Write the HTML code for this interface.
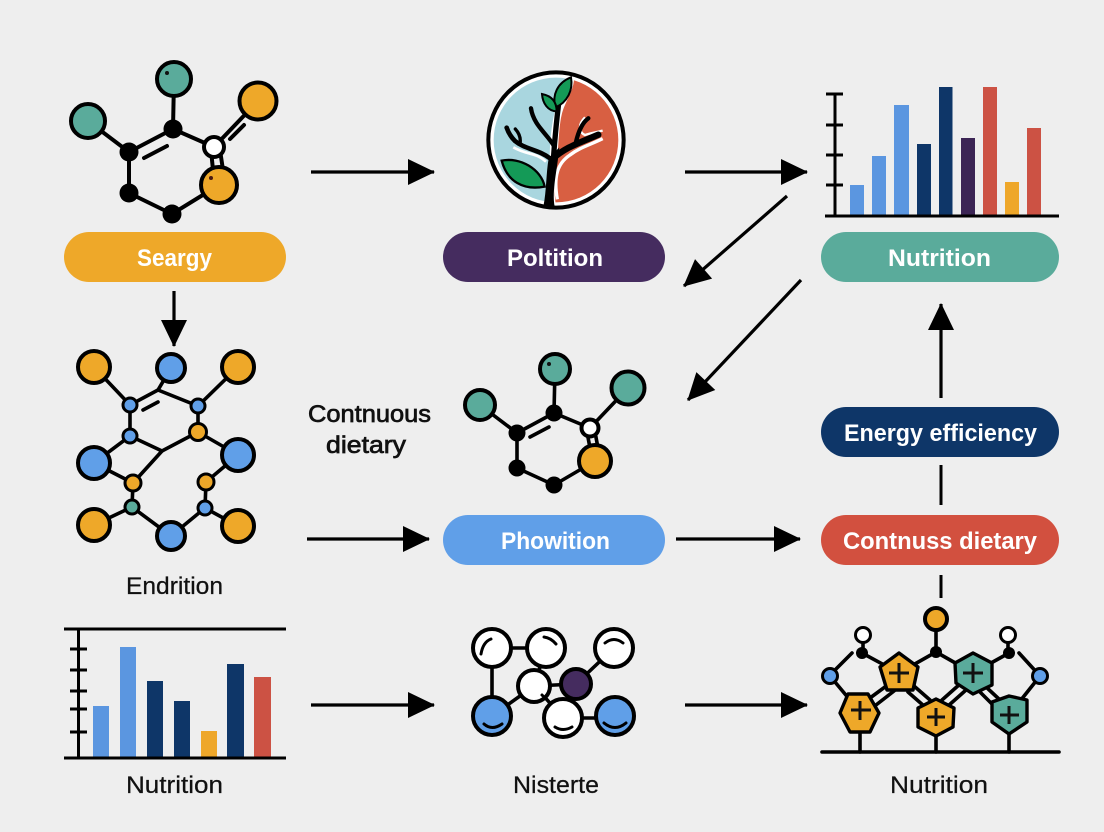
<!DOCTYPE html>
<html><head><meta charset="utf-8"><style>
html,body{margin:0;padding:0;background:#eeeeee}
svg{display:block}
.l{stroke:#000;stroke-width:3.6;fill:none;stroke-linecap:round}
.a{stroke:#000;stroke-width:3.2;fill:none;marker-end:url(#ah)}
.n{stroke:#000;stroke-width:4}
.n2{stroke:#000;stroke-width:3}
.p{font-family:"Liberation Sans",sans-serif;font-weight:700;font-size:24px;fill:#fff;text-anchor:start}
.t{font-family:"Liberation Sans",sans-serif;font-size:24px;fill:#111;text-anchor:start;stroke:#111;stroke-width:.25}
</style></head><body>
<svg width="1104" height="832" viewBox="0 0 1104 832" xmlns="http://www.w3.org/2000/svg">
<defs>
<marker id="ah" markerUnits="userSpaceOnUse" markerWidth="30" markerHeight="28" refX="27" refY="13" orient="auto"><path d="M1,0 L28,13 L1,26 Z" fill="#000"/></marker>
<clipPath id="cc"><circle cx="258" cy="240" r="187"/></clipPath>
</defs>
<rect width="1104" height="832" fill="#eeeeee"/>

<!-- molecule 1 -->
<g class="l" style="stroke-width:4">
<path d="M88,121 L129,152 L129,193 L172,214 L219,185"/>
<path d="M129,152 L173,129 L214,147"/><path d="M174,79 L173,129"/>
<path d="M214,147 L258,101"/><path d="M144,158 L167,146"/><path d="M230,139 L244,125"/>
<path d="M211,150 L213,170"/><path d="M220,150 L223,170"/>
</g>
<circle cx="174" cy="79" r="17" fill="#5aab9b" class="n"/><circle cx="167" cy="73" r="2" fill="#111"/>
<circle cx="88" cy="121" r="17" fill="#5aab9b" class="n"/>
<circle cx="258" cy="101" r="18.5" fill="#eea829" class="n"/>
<circle cx="173" cy="129" r="9.500" fill="#000"/><circle cx="129" cy="152" r="9.500" fill="#000"/>
<circle cx="129" cy="193" r="9.500" fill="#000"/><circle cx="172" cy="214" r="9.500" fill="#000"/>
<circle cx="214" cy="147" r="10" fill="#fff" class="n"/>
<circle cx="219" cy="185" r="18" fill="#eea829" class="n"/><circle cx="211" cy="178" r="2" fill="#4a1a10"/>
<rect x="64" y="232" width="222" height="50" rx="25" fill="#eea829"/>
<text x="137" y="266" class="p" textLength="75" lengthAdjust="spacingAndGlyphs">Seargy</text>

<!-- tree -->
<g transform="translate(470,60) scale(.3333)">
<circle cx="258" cy="240" r="203" fill="#fff" stroke="#000" stroke-width="12"/>
<g clip-path="url(#cc)">
<path d="M40,40 L298,40 C262,110 245,170 240,260 C238,330 232,390 220,440 L40,440Z" fill="#a9d6df"/>
<path d="M312,40 L480,40 L480,440 L258,440 C250,380 250,330 262,290 C268,220 268,170 285,135 C300,100 315,80 312,40Z" fill="#d85f42"/>
</g>
<path d="M262,418 C250,350 262,310 300,285 C330,262 360,255 398,236" fill="none" stroke="#fff" stroke-width="10"/>
<path d="M130,262 C170,285 200,278 228,305" fill="none" stroke="#fff" stroke-width="8"/>
<path d="M345,172 C322,195 328,218 345,225 C360,220 380,216 398,212" fill="none" stroke="#fff" stroke-width="7"/>
<path d="M220,440 C230,390 228,340 236,295 L268,262 C262,330 245,390 254,440Z" fill="#000"/>
<g fill="none" stroke="#000" stroke-linecap="round">
<path d="M250,300 C254,240 260,180 266,130" stroke-width="16"/>
<path d="M246,298 C285,262 325,250 385,224" stroke-width="19"/>
<path d="M318,246 C325,215 335,190 355,175" stroke-width="13"/>
<path d="M240,295 C205,268 165,268 135,243 C122,230 115,218 110,203" stroke-width="14"/>
<path d="M150,252 C153,235 148,220 136,207" stroke-width="10"/>
<path d="M252,258 C232,222 190,195 183,145" stroke-width="13"/>
</g>
<path d="M95,302 C150,290 214,328 224,380 C160,392 112,365 95,302Z" fill="#149a57" stroke="#000" stroke-width="7"/>
<path d="M303,52 C310,90 292,128 256,142 C246,105 262,68 303,52Z" fill="#149a57" stroke="#000" stroke-width="6"/>
<path d="M216,102 C246,108 260,125 260,154 C234,154 218,130 216,102Z" fill="#149a57" stroke="#000" stroke-width="6"/>
</g>
<rect x="443" y="232" width="222" height="50" rx="25" fill="#452c5f"/>
<text x="507" y="266" class="p" textLength="96" lengthAdjust="spacingAndGlyphs">Poltition</text>

<!-- chart 1 -->
<g fill="#5b96e0"><rect x="850" y="185" width="14" height="31"/><rect x="872" y="156" width="14" height="60"/><rect x="894" y="105" width="15" height="111"/></g>
<g fill="#0e3668"><rect x="917" y="144" width="14" height="72"/><rect x="939" y="87" width="13.500" height="129"/></g>
<rect x="961" y="138" width="14" height="78" fill="#3c2555"/>
<rect x="983" y="87" width="14" height="129" fill="#cc5244"/>
<rect x="1005" y="182" width="14" height="34" fill="#eea72a"/>
<rect x="1027" y="128" width="14" height="88" fill="#cc5244"/>
<g stroke="#000" stroke-width="3" fill="none">
<path d="M835,94 V216"/><path d="M826,94 H843"/><path d="M826,125 H843"/><path d="M826,155 H843"/><path d="M826,185 H843"/><path d="M825,216 H1059"/>
</g>
<rect x="821" y="232" width="238" height="50" rx="25" fill="#5aab9b"/>
<text x="888" y="266" class="p" textLength="103" lengthAdjust="spacingAndGlyphs">Nutrition</text>

<!-- arrows -->
<path class="a" d="M311,172 H434"/>
<path class="a" d="M685,172 H807"/>
<path class="a" d="M787,196 L684,286"/>
<path class="a" d="M801,280 L688,400"/>
<path class="a" d="M174,291 V346"/>
<path class="a" d="M307,539 H429"/>
<path class="a" d="M676,539 H800"/>
<path class="a" d="M941,398 V304"/>
<path d="M941,465 V505" stroke="#000" stroke-width="3"/>
<path d="M941,575 V598" stroke="#000" stroke-width="3"/>
<path class="a" d="M311,705 H434"/>
<path class="a" d="M685,705 H807"/>

<!-- network -->
<g class="l">
<path d="M94,367 L130,405 L158,390 L171,368"/><path d="M158,390 L198,406 L238,367"/>
<path d="M130,405 L130,436 L162,451 L198,432 L198,406"/><path d="M198,432 L238,455"/>
<path d="M94,463 L130,436"/><path d="M94,463 L133,483 L162,451"/>
<path d="M133,483 L132,507 L94,525"/><path d="M132,507 L171,536 L205,508 L238,526"/>
<path d="M205,508 L206,482 L238,455"/><path d="M143,410 L158,402"/>
</g>
<g class="n">
<circle cx="94" cy="367" r="16" fill="#eea829"/><circle cx="171" cy="368" r="14" fill="#609fe8"/><circle cx="238" cy="367" r="16" fill="#eea829"/>
<circle cx="94" cy="463" r="16" fill="#609fe8"/><circle cx="238" cy="455" r="16" fill="#609fe8"/>
<circle cx="94" cy="525" r="16" fill="#eea829"/><circle cx="171" cy="536" r="14" fill="#609fe8"/><circle cx="238" cy="526" r="16" fill="#eea829"/>
</g>
<g class="n2">
<circle cx="130" cy="405" r="7" fill="#609fe8"/><circle cx="198" cy="406" r="7" fill="#609fe8"/><circle cx="130" cy="436" r="7" fill="#609fe8"/>
<circle cx="198" cy="432" r="8.500" fill="#eea829"/><circle cx="133" cy="483" r="8" fill="#eea829"/><circle cx="206" cy="482" r="8" fill="#eea829"/>
<circle cx="132" cy="507" r="7" fill="#5aab9b"/><circle cx="205" cy="508" r="7" fill="#609fe8"/>
</g>
<text x="126" y="594" class="t" textLength="97" lengthAdjust="spacingAndGlyphs">Endrition</text>

<!-- molecule 2 -->
<g class="l">
<path d="M480,405 L517,433 L517,468 L554,485 L595,461"/>
<path d="M517,433 L554,413 L590,428"/><path d="M555,369 L554,413"/><path d="M590,428 L628,388"/>
<path d="M530,437 L549,427"/><path d="M587,432 L590,448"/><path d="M595,432 L598,448"/>
</g>
<circle cx="555" cy="369" r="15" fill="#5aab9b" class="n"/><circle cx="549" cy="364" r="2" fill="#111"/>
<circle cx="480" cy="405" r="15" fill="#5aab9b" class="n"/>
<circle cx="628" cy="388" r="16.500" fill="#5aab9b" class="n"/>
<circle cx="554" cy="413" r="8.500" fill="#000"/><circle cx="517" cy="433" r="8.500" fill="#000"/><circle cx="517" cy="468" r="8.500" fill="#000"/><circle cx="554" cy="485" r="8.500" fill="#000"/>
<circle cx="590" cy="428" r="8.500" fill="#fff" class="n"/>
<circle cx="595" cy="461" r="16" fill="#eea829" class="n"/>
<text x="308" y="422" class="t" textLength="123" lengthAdjust="spacingAndGlyphs" style="stroke-width:.7">Contnuous</text>
<text x="326" y="453" class="t" textLength="80" lengthAdjust="spacingAndGlyphs" style="stroke-width:.7">dietary</text>

<rect x="443" y="515" width="222" height="50" rx="25" fill="#609fe8"/>
<text x="501" y="549" class="p" textLength="109" lengthAdjust="spacingAndGlyphs">Phowition</text>
<rect x="821" y="407" width="238" height="50" rx="25" fill="#0e3668"/>
<text x="844" y="441" class="p" textLength="193" lengthAdjust="spacingAndGlyphs">Energy efficiency</text>
<rect x="821" y="515" width="238" height="50" rx="25" fill="#d2503f"/>
<text x="843" y="549" class="p" textLength="194" lengthAdjust="spacingAndGlyphs">Contnuss dietary</text>

<!-- bottom chart -->
<g fill="#5b96e0"><rect x="93" y="706" width="16" height="52"/><rect x="120" y="647" width="16" height="111"/></g>
<g fill="#0e3668"><rect x="147" y="681" width="16" height="77"/><rect x="174" y="701" width="16" height="57"/><rect x="227" y="664" width="17" height="94"/></g>
<rect x="201" y="731" width="16" height="27" fill="#eea72a"/>
<rect x="254" y="677" width="17" height="81" fill="#cc5244"/>
<g stroke="#000" stroke-width="3" fill="none">
<path d="M64,629 H286"/><path d="M64,758 H286"/><path d="M78.500,629 V758"/>
<path d="M70,649 H87"/><path d="M70,670 H87"/><path d="M70,691 H87"/><path d="M70,709 H87"/><path d="M70,732 H87"/>
</g>
<text x="126" y="793" class="t" textLength="97" lengthAdjust="spacingAndGlyphs">Nutrition</text>

<!-- bubbles -->
<g class="l">
<path d="M492,648 H546"/><path d="M492,648 V716"/><path d="M546,648 L534,686"/>
<path d="M534,686 L576,684"/><path d="M576,684 L614,648"/><path d="M534,686 L492,716"/>
<path d="M542,694 L563,718"/><path d="M563,718 H615"/>
</g>
<g class="n">
<circle cx="492" cy="648" r="19" fill="#fff"/><circle cx="546" cy="648" r="19" fill="#fff"/><circle cx="614" cy="648" r="19" fill="#fff"/>
<circle cx="534" cy="686" r="16" fill="#fff"/><circle cx="576" cy="684" r="15" fill="#452c5f"/>
<circle cx="492" cy="716" r="19" fill="#609fe8"/><circle cx="563" cy="718" r="19" fill="#fff"/><circle cx="615" cy="716" r="19" fill="#609fe8"/>
</g>
<g class="l" style="stroke-width:3">
<path d="M481,654 Q483,642 491,639"/><path d="M544,637 Q551,638 556,644"/><path d="M605,643 Q614,636 623,643"/>
<path d="M484,724 Q492,731 502,724"/><path d="M555,727 Q563,732 572,727"/><path d="M604,723 Q615,732 626,723"/>
<path d="M542,695 L544,697"/>
</g>
<text x="513" y="793" class="t" textLength="86" lengthAdjust="spacingAndGlyphs">Nisterte</text>

<!-- lattice -->
<g class="l">
<path d="M936,619 V652"/><path d="M863,635 V653"/><path d="M1008,635 V653"/>
<path d="M836,669 L852,653"/><path d="M862,653 L899,673 L936,652 L973,673 L1009,653"/>
<path d="M1019,653 L1040,676"/><path d="M830,676 L860,712"/><path d="M1040,676 L1009,715"/>
<path d="M860,752 V712"/><path d="M936,752 V717"/><path d="M1009,752 V715"/>
<path d="M870,698 L889,684"/><path d="M876,705 L894,691"/>
<path d="M914,686 L930,700"/><path d="M908,692 L924,706"/>
<path d="M942,700 L960,684"/><path d="M948,706 L966,690"/>
<path d="M985,686 L1000,700"/><path d="M980,692 L994,706"/>
<path d="M822,752 H1059"/>
</g>
<circle cx="936" cy="619" r="11" fill="#eea829" class="n"/>
<circle cx="863" cy="635" r="7.500" fill="#fff" class="n2"/><circle cx="1008" cy="635" r="7.500" fill="#fff" class="n2"/>
<circle cx="862" cy="653" r="6" fill="#000"/><circle cx="936" cy="652" r="6" fill="#000"/><circle cx="1009" cy="653" r="6" fill="#000"/>
<circle cx="830" cy="676" r="7.500" fill="#609fe8" class="n2"/><circle cx="1040" cy="676" r="7.500" fill="#609fe8" class="n2"/>
<g stroke="#000" stroke-width="3.4" stroke-linejoin="round">
<path d="M899,653 L918,667 L913,690 L887,690 L880,667Z" fill="#eea829"/>
<path d="M973,653 L992,663 L992,685 L973,694 L956,683 L955,663Z" fill="#5aab9b"/>
<path d="M848,694 L868,694 L879,713 L870,732 L850,732 L840,713Z" fill="#eea829"/>
<path d="M936,699 L954,708 L953,727 L936,736 L918,727 L918,708Z" fill="#eea829"/>
<path d="M1009,696 L1027,700 L1027,722 L1009,734 L992,722 L992,702Z" fill="#5aab9b"/>
</g>
<g stroke="#111" stroke-width="3" fill="none">
<path d="M889,673 H909 M899,663 V683"/><path d="M963,673 H983 M973,663 V683"/>
<path d="M851,710 H871 M860,701 V720"/><path d="M927,717 H945 M936,708 V726"/><path d="M1000,715 H1019 M1009,706 V724"/>
</g>
<text x="890" y="793" class="t" textLength="98" lengthAdjust="spacingAndGlyphs">Nutrition</text>
</svg>
</body></html>
